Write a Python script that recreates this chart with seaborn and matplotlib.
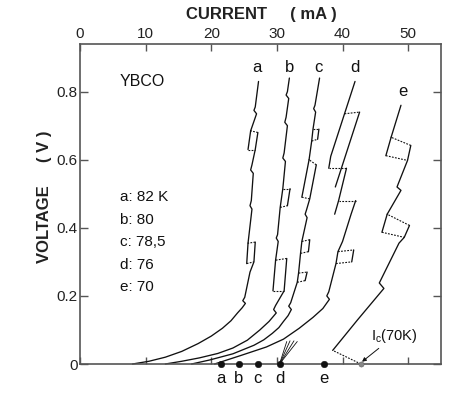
import pandas as pd
import seaborn as sns
import matplotlib.pyplot as plt

# values: current I (mA), voltage V (V)
names = ["a", "b", "c", "d", "e"]
temps = ["82 K", "80", "78,5", "76", "70"]
onset_I = [21.5, 24.2, 27.1, 30.4, 37.2]      # dots on the current axis
label_I = [26.9, 32.0, 36.3, 41.9, 49.2]      # curve letters at the top
label_V = [0.87, 0.87, 0.87, 0.87, 0.80]
ic_I = 42.8                                    # I_c (70 K)

# each curve: solid pieces and dashed pieces, as (I list, V list)
a_solid = [
    ([8.0, 10.5, 13.0, 15.5, 18.0, 20.0, 21.7, 23.0, 24.0, 24.7, 25.2, 24.8,
      25.1, 25.9, 26.5, 26.7],
     [0.000, 0.008, 0.020, 0.037, 0.060, 0.082, 0.105, 0.127, 0.150, 0.165,
      0.178, 0.186, 0.196, 0.270, 0.300, 0.358]),
    ([25.6, 26.2, 25.9, 26.1, 26.4, 26.0, 26.2, 26.7, 27.1],
     [0.355, 0.455, 0.465, 0.480, 0.560, 0.570, 0.585, 0.630, 0.680]),
    ([26.0, 26.9, 26.5, 26.7, 27.2], [0.685, 0.735, 0.745, 0.755, 0.830]),
    ([25.4, 25.6], [0.295, 0.355]),
    ([25.6, 26.0], [0.630, 0.685]),
]
a_dashed = [
    ([26.7, 25.6], [0.358, 0.355]),
    ([25.4, 26.5], [0.295, 0.300]),
    ([27.1, 26.0], [0.680, 0.685]),
    ([25.6, 26.7], [0.630, 0.630]),
]

b_solid = [
    ([13.0, 15.5, 18.2, 21.0, 23.3, 25.5, 27.4, 28.8, 29.9, 29.5, 29.8, 31.1, 31.5],
     [0.000, 0.008, 0.018, 0.031, 0.047, 0.070, 0.100, 0.125, 0.150, 0.160,
      0.172, 0.215, 0.310]),
    ([29.8, 30.2, 29.9, 30.1, 30.5, 30.9, 31.3, 30.9, 31.1, 31.6, 31.2, 31.4,
      31.8, 31.4, 31.6, 31.9],
     [0.305, 0.360, 0.370, 0.380, 0.460, 0.515, 0.595, 0.605, 0.620, 0.700,
      0.710, 0.725, 0.780, 0.790, 0.800, 0.840]),
    ([29.4, 29.8], [0.215, 0.305]),
    ([31.6, 32.0], [0.465, 0.515]),
]
b_dashed = [
    ([31.5, 29.8], [0.310, 0.305]),
    ([29.4, 31.1], [0.215, 0.215]),
    ([30.5, 31.6], [0.460, 0.465]),
    ([30.9, 32.0], [0.515, 0.515]),
]

c_solid = [
    ([17.0, 19.8, 23.3, 26.5, 28.0, 29.3, 30.3, 31.0, 31.7, 32.2, 31.8, 32.1,
      33.1, 33.3, 33.6, 33.8, 34.6, 34.3, 34.5, 35.0, 36.0],
     [0.000, 0.012, 0.030, 0.055, 0.071, 0.090, 0.107, 0.125, 0.142, 0.160,
      0.170, 0.180, 0.240, 0.267, 0.325, 0.360, 0.430, 0.440, 0.452, 0.485, 0.585]),
    ([34.9, 35.3, 35.5, 35.9, 35.6, 35.8, 36.5],
     [0.600, 0.655, 0.690, 0.740, 0.750, 0.760, 0.840]),
    ([33.8, 34.9], [0.490, 0.600]),
    ([34.3, 34.6], [0.245, 0.270]),
    ([34.8, 35.0], [0.330, 0.365]),
    ([36.2, 36.4], [0.660, 0.690]),
]
c_dashed = [
    ([36.0, 34.9], [0.585, 0.600]),
    ([33.8, 35.0], [0.490, 0.485]),
    ([33.1, 34.3], [0.240, 0.245]),
    ([33.3, 34.6], [0.267, 0.270]),
    ([33.6, 34.8], [0.325, 0.330]),
    ([33.8, 35.0], [0.360, 0.365]),
    ([35.3, 36.2], [0.655, 0.660]),
    ([35.5, 36.4], [0.690, 0.690]),
]

d_solid = [
    ([20.5, 24.5, 28.4, 31.0, 33.4, 35.5, 37.0, 38.0, 37.6, 37.9, 39.0, 39.3,
      40.0, 41.3, 42.0],
     [0.000, 0.025, 0.050, 0.073, 0.105, 0.137, 0.163, 0.190, 0.200, 0.212,
      0.295, 0.330, 0.360, 0.440, 0.480]),
    ([38.8, 39.4, 40.6], [0.440, 0.480, 0.575]),
    ([38.9, 42.6], [0.520, 0.740]),
    ([37.9, 38.2, 40.3, 41.9], [0.575, 0.610, 0.735, 0.830]),
    ([41.4, 41.7], [0.300, 0.335]),
]
d_dashed = [
    ([42.0, 39.4], [0.480, 0.480]),
    ([40.6, 37.9], [0.575, 0.575]),
    ([40.3, 42.6], [0.735, 0.740]),
    ([39.0, 41.4], [0.295, 0.300]),
    ([39.3, 41.7], [0.330, 0.335]),
]
# short lines fanning out from dot d
d_fan_I = [31.5, 32.0, 32.6, 33.1]
d_fan_V = [0.066, 0.068, 0.068, 0.066]

e_solid = [
    ([38.5, 42.3, 46.3, 45.6, 48.6, 49.4, 50.2],
     [0.040, 0.130, 0.222, 0.238, 0.355, 0.372, 0.407]),
    ([46.8, 48.9, 48.3, 48.5, 49.9, 50.4],
     [0.440, 0.510, 0.520, 0.530, 0.598, 0.642]),
    ([47.4, 48.9], [0.666, 0.760]),
    ([46.0, 46.8], [0.387, 0.440]),
    ([46.6, 47.4], [0.612, 0.666]),
]
e_dashed = [
    ([50.2, 46.8], [0.407, 0.440]),
    ([46.0, 49.4], [0.387, 0.372]),
    ([50.4, 47.4], [0.642, 0.666]),
    ([46.6, 49.9], [0.612, 0.598]),
    ([ic_I, 38.5], [0.000, 0.040]),
]

rows = []
curves = {"a": (a_solid, a_dashed), "b": (b_solid, b_dashed), "c": (c_solid, c_dashed),
          "d": (d_solid, d_dashed), "e": (e_solid, e_dashed)}
for name, (solid, dashed) in curves.items():
    for style, pieces in (("solid", solid), ("dashed", dashed)):
        for k, (I, V) in enumerate(pieces):
            for i, v in zip(I, V):
                rows.append({"piece": f"{name}-{style}-{k}", "style": style, "I": i, "V": v})
for k, (i, v) in enumerate(zip(d_fan_I, d_fan_V)):
    rows.append({"piece": f"fan-{k}", "style": "fan", "I": onset_I[3], "V": 0.0})
    rows.append({"piece": f"fan-{k}", "style": "fan", "I": i, "V": v})
df = pd.DataFrame(rows)

sns.set_style("white")
plt.rcParams["font.family"] = ["Liberation Sans", "DejaVu Sans"]

fig = plt.figure(figsize=(4.73, 3.94), dpi=100)
ax = fig.add_axes([80 / 473, 1 - 364 / 394, 361 / 473, 320 / 394])

ink = "#111111"
sns.lineplot(data=df[df["style"] == "solid"], x="I", y="V", units="piece",
             estimator=None, sort=False, color=ink, lw=0.95, ax=ax, clip_on=False)
sns.lineplot(data=df[df["style"] == "dashed"], x="I", y="V", units="piece",
             estimator=None, sort=False, color=ink, lw=0.8, ax=ax,
             linestyle=(0, (1.6, 1.2)), clip_on=False)
sns.lineplot(data=df[df["style"] == "fan"], x="I", y="V", units="piece",
             estimator=None, sort=False, color=ink, lw=0.6, ax=ax)

sns.scatterplot(x=onset_I, y=[0.0] * 5, color=ink, s=22, edgecolor=ink,
                ax=ax, clip_on=False, zorder=5)
sns.scatterplot(x=[ic_I], y=[0.0], color="#888888", s=14, edgecolor="#555555",
                ax=ax, clip_on=False, zorder=5)

for n, x in zip(names, onset_I):
    ax.text(x, -0.042, n, ha="center", va="center", fontsize=12, color=ink, clip_on=False)
for n, x, y in zip(names, label_I, label_V):
    ax.text(x, y, n, ha="center", va="center", fontsize=12, color=ink)

ax.text(6.1, 0.83, "YBCO", ha="left", va="center", fontsize=11.5, color=ink)
for k, (n, t) in enumerate(zip(names, temps)):
    ax.text(6.1, 0.49 - k * 0.066, f"{n}: {t}", ha="left", va="center",
            fontsize=11, color=ink)

ax.annotate(r"I$_\mathregular{c}$(70K)", xy=(ic_I, 0.004), xytext=(44.3, 0.082),
            fontsize=10.5, color=ink, va="center",
            arrowprops=dict(arrowstyle="-|>", color=ink, lw=0.7,
                            mutation_scale=6, shrinkA=0, shrinkB=1))

ax.set_xlim(0, 55)
ax.set_ylim(0, 0.94)
ax.set_xticks([0, 10, 20, 30, 40, 50])
ax.set_yticks([0, 0.2, 0.4, 0.6, 0.8])
ax.set_yticklabels(["0", "0.2", "0.4", "0.6", "0.8"])
ax.set_xlabel("")
ax.set_ylabel("")
ax.tick_params(axis="x", top=True, bottom=True, labeltop=True, labelbottom=False,
               direction="in", length=5, width=1, color="#555555",
               labelsize=11, labelcolor="#222222", pad=2.5)
ax.tick_params(axis="y", left=True, right=True, labelleft=True, direction="in",
               length=6, width=1, color="#555555", labelsize=11,
               labelcolor="#222222", pad=1.5)
for sp in ax.spines.values():
    sp.set_visible(True)
    sp.set_color("#555555")
    sp.set_linewidth(1.2)

fig.text(261 / 473, 1 - 14 / 394, "CURRENT     ( mA )", ha="center", va="center",
         fontsize=12, fontweight="bold", color="#222222")
fig.text(44 / 473, 1 - 197 / 394, "VOLTAGE     ( V )", ha="center", va="center",
         rotation=90, fontsize=12, fontweight="bold", color="#222222")

fig.savefig("out.png", dpi=100)
